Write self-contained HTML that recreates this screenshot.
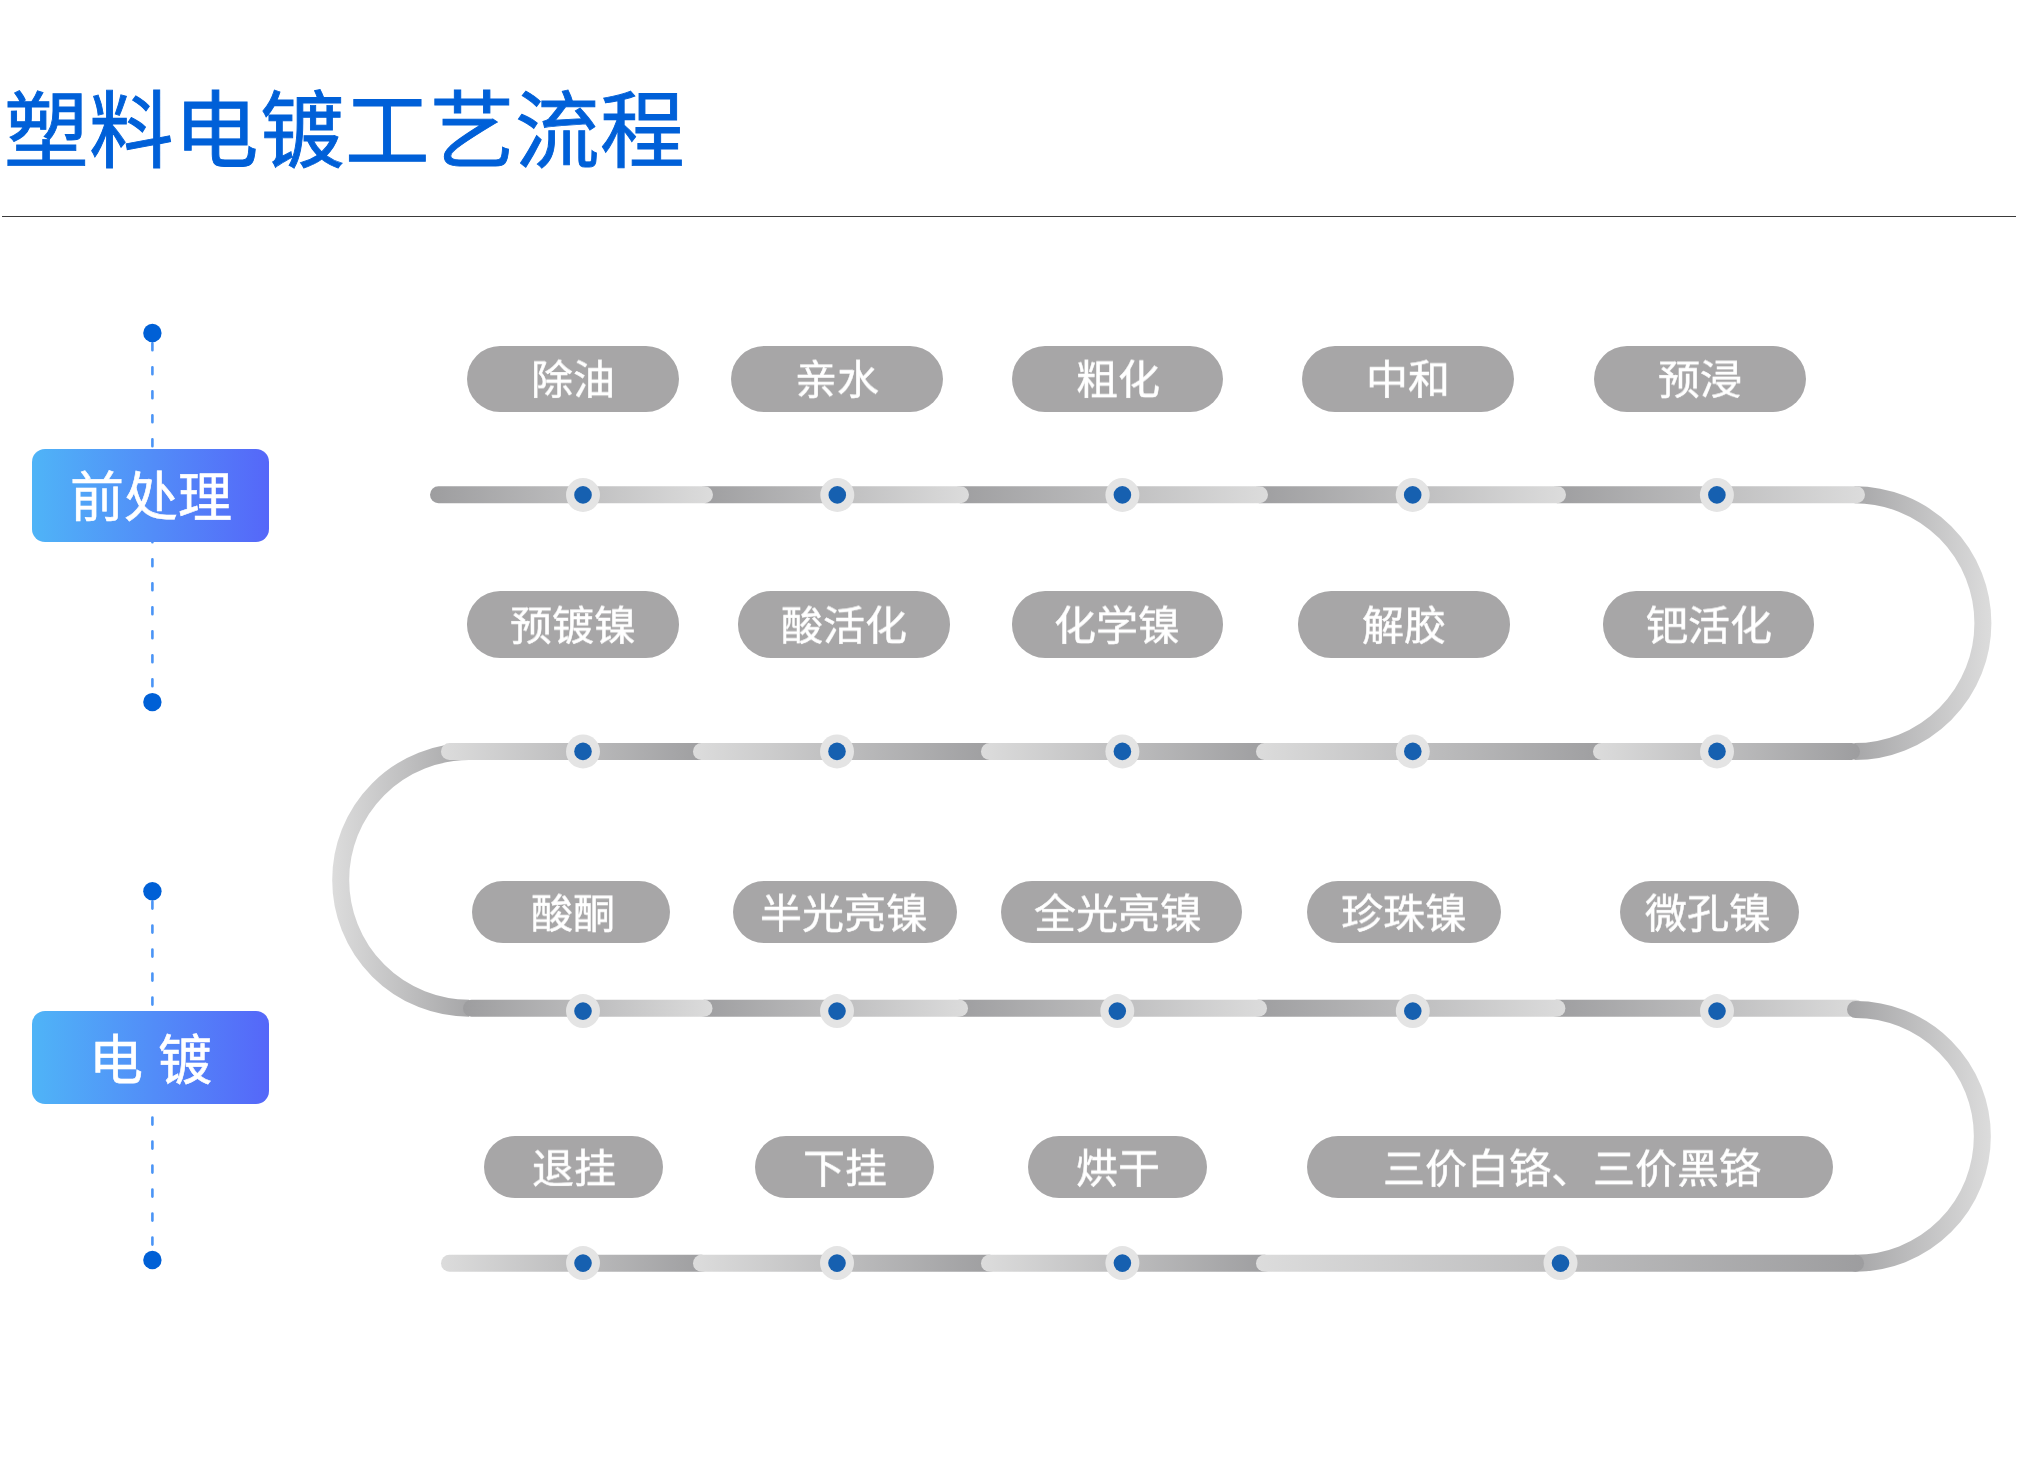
<!DOCTYPE html>
<html lang="zh-CN"><head><meta charset="utf-8"><title>塑料电镀工艺流程</title>
<style>
html,body{margin:0;padding:0;background:#ffffff;}
body{width:2018px;height:1465px;position:relative;overflow:hidden;font-family:"Liberation Sans",sans-serif;}
.title{position:absolute;left:4px;top:77px;font-size:84.5px;line-height:110px;letter-spacing:0.2px;color:#0060d8;white-space:nowrap;-webkit-text-stroke:0.9px #0060d8;will-change:transform;}
.hr{position:absolute;left:2px;top:216px;width:2014px;height:1.4px;background:#3a3a3a;}
.pill{position:absolute;background:#a7a6a7;color:#fff;text-align:center;font-size:42px;white-space:nowrap;-webkit-text-stroke:0.5px #fff;}
.pill span{position:relative;top:1.5px;will-change:transform;display:inline-block;transform:scaleY(0.965);transform-origin:50% 80%}
.box{position:absolute;left:32px;width:237px;height:93px;border-radius:13px;background:linear-gradient(90deg,#4fb4f7,#5567f9);color:#fff;text-align:center;font-size:54px;line-height:93px;white-space:nowrap;-webkit-text-stroke:0.6px #fff;}
</style></head><body>
<div class="title">塑料电镀工艺流程</div>
<div class="hr"></div>
<svg width="2018" height="1465" viewBox="0 0 2018 1465" style="position:absolute;left:0;top:0"><defs><linearGradient id="g1" gradientUnits="userSpaceOnUse" x1="1829.5" y1="0" x2="1991.45" y2="0"><stop offset="0" stop-color="#9d9d9f"/><stop offset="1" stop-color="#dcdcdc"/></linearGradient><linearGradient id="g2" gradientUnits="userSpaceOnUse" x1="332.2" y1="0" x2="494" y2="0"><stop offset="0" stop-color="#dcdcdc"/><stop offset="1" stop-color="#9d9d9f"/></linearGradient><linearGradient id="g3" gradientUnits="userSpaceOnUse" x1="1549" y1="0" x2="1865" y2="0"><stop offset="0" stop-color="#9d9d9f"/><stop offset="1" stop-color="#dcdcdc"/></linearGradient><linearGradient id="g4" gradientUnits="userSpaceOnUse" x1="1251" y1="0" x2="1566" y2="0"><stop offset="0" stop-color="#9d9d9f"/><stop offset="1" stop-color="#dcdcdc"/></linearGradient><linearGradient id="g5" gradientUnits="userSpaceOnUse" x1="952" y1="0" x2="1268" y2="0"><stop offset="0" stop-color="#9d9d9f"/><stop offset="1" stop-color="#dcdcdc"/></linearGradient><linearGradient id="g6" gradientUnits="userSpaceOnUse" x1="697" y1="0" x2="969" y2="0"><stop offset="0" stop-color="#9d9d9f"/><stop offset="1" stop-color="#dcdcdc"/></linearGradient><linearGradient id="g7" gradientUnits="userSpaceOnUse" x1="430" y1="0" x2="713" y2="0"><stop offset="0" stop-color="#9d9d9f"/><stop offset="1" stop-color="#dcdcdc"/></linearGradient><linearGradient id="g8" gradientUnits="userSpaceOnUse" x1="441" y1="0" x2="710" y2="0"><stop offset="0" stop-color="#dcdcdc"/><stop offset="1" stop-color="#9d9d9f"/></linearGradient><linearGradient id="g9" gradientUnits="userSpaceOnUse" x1="693" y1="0" x2="998" y2="0"><stop offset="0" stop-color="#dcdcdc"/><stop offset="1" stop-color="#9d9d9f"/></linearGradient><linearGradient id="g10" gradientUnits="userSpaceOnUse" x1="981" y1="0" x2="1273" y2="0"><stop offset="0" stop-color="#dcdcdc"/><stop offset="1" stop-color="#9d9d9f"/></linearGradient><linearGradient id="g11" gradientUnits="userSpaceOnUse" x1="1256" y1="0" x2="1610" y2="0"><stop offset="0" stop-color="#dcdcdc"/><stop offset="1" stop-color="#9d9d9f"/></linearGradient><linearGradient id="g12" gradientUnits="userSpaceOnUse" x1="1593" y1="0" x2="1860" y2="0"><stop offset="0" stop-color="#dcdcdc"/><stop offset="1" stop-color="#9d9d9f"/></linearGradient><linearGradient id="g13" gradientUnits="userSpaceOnUse" x1="1548" y1="0" x2="1864" y2="0"><stop offset="0" stop-color="#9d9d9f"/><stop offset="1" stop-color="#dcdcdc"/></linearGradient><linearGradient id="g14" gradientUnits="userSpaceOnUse" x1="1250" y1="0" x2="1565.4" y2="0"><stop offset="0" stop-color="#9d9d9f"/><stop offset="1" stop-color="#dcdcdc"/></linearGradient><linearGradient id="g15" gradientUnits="userSpaceOnUse" x1="951" y1="0" x2="1267" y2="0"><stop offset="0" stop-color="#9d9d9f"/><stop offset="1" stop-color="#dcdcdc"/></linearGradient><linearGradient id="g16" gradientUnits="userSpaceOnUse" x1="696" y1="0" x2="968" y2="0"><stop offset="0" stop-color="#9d9d9f"/><stop offset="1" stop-color="#dcdcdc"/></linearGradient><linearGradient id="g17" gradientUnits="userSpaceOnUse" x1="463" y1="0" x2="712.5" y2="0"><stop offset="0" stop-color="#9d9d9f"/><stop offset="1" stop-color="#dcdcdc"/></linearGradient><linearGradient id="g18" gradientUnits="userSpaceOnUse" x1="1830.5" y1="0" x2="1990.85" y2="0"><stop offset="0" stop-color="#9d9d9f"/><stop offset="1" stop-color="#dcdcdc"/></linearGradient><linearGradient id="g19" gradientUnits="userSpaceOnUse" x1="441" y1="0" x2="710" y2="0"><stop offset="0" stop-color="#dcdcdc"/><stop offset="1" stop-color="#9d9d9f"/></linearGradient><linearGradient id="g20" gradientUnits="userSpaceOnUse" x1="693" y1="0" x2="998" y2="0"><stop offset="0" stop-color="#dcdcdc"/><stop offset="1" stop-color="#9d9d9f"/></linearGradient><linearGradient id="g21" gradientUnits="userSpaceOnUse" x1="981" y1="0" x2="1273" y2="0"><stop offset="0" stop-color="#dcdcdc"/><stop offset="1" stop-color="#9d9d9f"/></linearGradient><linearGradient id="g22" gradientUnits="userSpaceOnUse" x1="1256" y1="0" x2="1864" y2="0"><stop offset="0" stop-color="#dcdcdc"/><stop offset="1" stop-color="#9d9d9f"/></linearGradient></defs><path d="M1854.5,494.69999999999993 A128.45000000000002,128.45000000000002 0 0 1 1854.5,751.6" fill="none" stroke="url(#g1)" stroke-width="17" stroke-linecap="butt"/><path d="M469,751.6000000000001 A128.3,128.3 0 0 0 469,1008.2" fill="none" stroke="url(#g2)" stroke-width="17" stroke-linecap="butt"/><line x1="1557.5" y1="494.7" x2="1856.5" y2="494.7" stroke="url(#g3)" stroke-width="17" stroke-linecap="round"/><line x1="1259.5" y1="494.7" x2="1557.5" y2="494.7" stroke="url(#g4)" stroke-width="17" stroke-linecap="round"/><line x1="960.5" y1="494.7" x2="1259.5" y2="494.7" stroke="url(#g5)" stroke-width="17" stroke-linecap="round"/><line x1="705.5" y1="494.7" x2="960.5" y2="494.7" stroke="url(#g6)" stroke-width="17" stroke-linecap="round"/><line x1="438.5" y1="494.7" x2="704.5" y2="494.7" stroke="url(#g7)" stroke-width="17" stroke-linecap="round"/><line x1="449.5" y1="751.6" x2="701.5" y2="751.6" stroke="url(#g8)" stroke-width="17" stroke-linecap="round"/><line x1="701.5" y1="751.6" x2="989.5" y2="751.6" stroke="url(#g9)" stroke-width="17" stroke-linecap="round"/><line x1="989.5" y1="751.6" x2="1264.5" y2="751.6" stroke="url(#g10)" stroke-width="17" stroke-linecap="round"/><line x1="1264.5" y1="751.6" x2="1601.5" y2="751.6" stroke="url(#g11)" stroke-width="17" stroke-linecap="round"/><line x1="1601.5" y1="751.6" x2="1851.5" y2="751.6" stroke="url(#g12)" stroke-width="17" stroke-linecap="round"/><line x1="1556.5" y1="1008.2" x2="1855.5" y2="1008.2" stroke="url(#g13)" stroke-width="17" stroke-linecap="round"/><line x1="1258.5" y1="1008.2" x2="1556.9" y2="1008.2" stroke="url(#g14)" stroke-width="17" stroke-linecap="round"/><line x1="959.5" y1="1008.2" x2="1258.5" y2="1008.2" stroke="url(#g15)" stroke-width="17" stroke-linecap="round"/><line x1="704.5" y1="1008.2" x2="959.5" y2="1008.2" stroke="url(#g16)" stroke-width="17" stroke-linecap="round"/><line x1="471.5" y1="1008.2" x2="704.0" y2="1008.2" stroke="url(#g17)" stroke-width="17" stroke-linecap="round"/><path d="M1855.5,1009.4999999999999 A126.85,126.85 0 0 1 1855.5,1263.1999999999998" fill="none" stroke="url(#g18)" stroke-width="17" stroke-linecap="round"/><line x1="449.5" y1="1263.2" x2="701.5" y2="1263.2" stroke="url(#g19)" stroke-width="17" stroke-linecap="round"/><line x1="701.5" y1="1263.2" x2="989.5" y2="1263.2" stroke="url(#g20)" stroke-width="17" stroke-linecap="round"/><line x1="989.5" y1="1263.2" x2="1264.5" y2="1263.2" stroke="url(#g21)" stroke-width="17" stroke-linecap="round"/><line x1="1264.5" y1="1263.2" x2="1855.5" y2="1263.2" stroke="url(#g22)" stroke-width="17" stroke-linecap="round"/><circle cx="583" cy="494.9" r="17" fill="#e4e4e4"/><circle cx="583" cy="494.9" r="8.8" fill="#1660b0"/><circle cx="837.3" cy="494.9" r="17" fill="#e4e4e4"/><circle cx="837.3" cy="494.9" r="8.8" fill="#1660b0"/><circle cx="1122.4" cy="494.9" r="17" fill="#e4e4e4"/><circle cx="1122.4" cy="494.9" r="8.8" fill="#1660b0"/><circle cx="1412.7" cy="494.9" r="17" fill="#e4e4e4"/><circle cx="1412.7" cy="494.9" r="8.8" fill="#1660b0"/><circle cx="1716.9" cy="494.9" r="17" fill="#e4e4e4"/><circle cx="1716.9" cy="494.9" r="8.8" fill="#1660b0"/><circle cx="583" cy="751.4" r="17" fill="#e4e4e4"/><circle cx="583" cy="751.4" r="8.8" fill="#1660b0"/><circle cx="837" cy="751.4" r="17" fill="#e4e4e4"/><circle cx="837" cy="751.4" r="8.8" fill="#1660b0"/><circle cx="1122.4" cy="751.4" r="17" fill="#e4e4e4"/><circle cx="1122.4" cy="751.4" r="8.8" fill="#1660b0"/><circle cx="1412.8" cy="751.4" r="17" fill="#e4e4e4"/><circle cx="1412.8" cy="751.4" r="8.8" fill="#1660b0"/><circle cx="1717" cy="751.4" r="17" fill="#e4e4e4"/><circle cx="1717" cy="751.4" r="8.8" fill="#1660b0"/><circle cx="583" cy="1011.1" r="17" fill="#e4e4e4"/><circle cx="583" cy="1011.1" r="8.8" fill="#1660b0"/><circle cx="837" cy="1011.1" r="17" fill="#e4e4e4"/><circle cx="837" cy="1011.1" r="8.8" fill="#1660b0"/><circle cx="1117.3" cy="1011.1" r="17" fill="#e4e4e4"/><circle cx="1117.3" cy="1011.1" r="8.8" fill="#1660b0"/><circle cx="1412.8" cy="1011.1" r="17" fill="#e4e4e4"/><circle cx="1412.8" cy="1011.1" r="8.8" fill="#1660b0"/><circle cx="1717" cy="1011.1" r="17" fill="#e4e4e4"/><circle cx="1717" cy="1011.1" r="8.8" fill="#1660b0"/><circle cx="583" cy="1263.1" r="17" fill="#e4e4e4"/><circle cx="583" cy="1263.1" r="8.8" fill="#1660b0"/><circle cx="837" cy="1263.1" r="17" fill="#e4e4e4"/><circle cx="837" cy="1263.1" r="8.8" fill="#1660b0"/><circle cx="1122.4" cy="1263.1" r="17" fill="#e4e4e4"/><circle cx="1122.4" cy="1263.1" r="8.8" fill="#1660b0"/><circle cx="1560.5" cy="1263.1" r="17" fill="#e4e4e4"/><circle cx="1560.5" cy="1263.1" r="8.8" fill="#1660b0"/><line x1="152.4" y1="342" x2="152.4" y2="693.1" stroke="#4a94f6" stroke-width="2.6" stroke-dasharray="7 17" stroke-dashoffset="-1.3" stroke-linecap="round"/><circle cx="152.4" cy="333" r="9.2" fill="#0060d6"/><circle cx="152.4" cy="702.1" r="9.2" fill="#0060d6"/><line x1="152.4" y1="900.3" x2="152.4" y2="1251" stroke="#4a94f6" stroke-width="2.6" stroke-dasharray="7 17" stroke-dashoffset="-1.3" stroke-linecap="round"/><circle cx="152.4" cy="891.3" r="9.2" fill="#0060d6"/><circle cx="152.4" cy="1260" r="9.2" fill="#0060d6"/></svg>
<div class="box" style="top:449px"><span style="position:relative;top:2.5px">前处理</span></div>
<div class="box" style="top:1011px"><span style="position:relative;top:3.5px">电 镀</span></div>
<div class="pill" style="left:467px;top:345.5px;width:212.00px;height:66.20px;border-radius:33.10px;line-height:66.20px"><span style="left:0px">除油</span></div><div class="pill" style="left:731px;top:345.5px;width:212.00px;height:66.20px;border-radius:33.10px;line-height:66.20px"><span style="left:0px">亲水</span></div><div class="pill" style="left:1012px;top:345.5px;width:211.00px;height:66.20px;border-radius:33.10px;line-height:66.20px"><span style="left:0px">粗化</span></div><div class="pill" style="left:1302px;top:345.5px;width:212.00px;height:66.20px;border-radius:33.10px;line-height:66.20px"><span style="left:0px">中和</span></div><div class="pill" style="left:1594px;top:345.5px;width:211.50px;height:66.20px;border-radius:33.10px;line-height:66.20px"><span style="left:0px">预浸</span></div><div class="pill" style="left:467px;top:591.4px;width:212.00px;height:66.20px;border-radius:33.10px;line-height:66.20px"><span style="left:0px">预镀镍</span></div><div class="pill" style="left:738px;top:591.4px;width:212.30px;height:66.20px;border-radius:33.10px;line-height:66.20px"><span style="left:0px">酸活化</span></div><div class="pill" style="left:1011.5px;top:591.4px;width:211.90px;height:66.20px;border-radius:33.10px;line-height:66.20px"><span style="left:0px">化学镍</span></div><div class="pill" style="left:1298.2px;top:591.4px;width:211.80px;height:66.20px;border-radius:33.10px;line-height:66.20px"><span style="left:0px">解胶</span></div><div class="pill" style="left:1602.6px;top:591.4px;width:211.90px;height:66.20px;border-radius:33.10px;line-height:66.20px"><span style="left:0px">钯活化</span></div><div class="pill" style="left:472px;top:881px;width:198.00px;height:62.00px;border-radius:31.00px;line-height:62.00px"><span style="left:2px">酸酮</span></div><div class="pill" style="left:733px;top:881px;width:223.60px;height:62.00px;border-radius:31.00px;line-height:62.00px"><span style="left:-1.3px">半光亮镍</span></div><div class="pill" style="left:1001px;top:881px;width:241.00px;height:62.00px;border-radius:31.00px;line-height:62.00px"><span style="left:-3.7px">全光亮镍</span></div><div class="pill" style="left:1307px;top:881px;width:194.00px;height:62.00px;border-radius:31.00px;line-height:62.00px"><span style="left:0px">珍珠镍</span></div><div class="pill" style="left:1620px;top:881px;width:179.00px;height:62.00px;border-radius:31.00px;line-height:62.00px"><span style="left:-1.7px">微孔镍</span></div><div class="pill" style="left:484px;top:1136.2px;width:179.00px;height:62.10px;border-radius:31.05px;line-height:62.10px"><span style="left:0px">退挂</span></div><div class="pill" style="left:755px;top:1136.2px;width:179.00px;height:62.10px;border-radius:31.05px;line-height:62.10px"><span style="left:0px">下挂</span></div><div class="pill" style="left:1028px;top:1136.2px;width:179.00px;height:62.10px;border-radius:31.05px;line-height:62.10px"><span style="left:0px">烘干</span></div><div class="pill" style="left:1307.2px;top:1136.2px;width:526.10px;height:62.10px;border-radius:31.05px;line-height:62.10px"><span style="left:1.4px">三价白铬、三价黑铬</span></div>
</body></html>
